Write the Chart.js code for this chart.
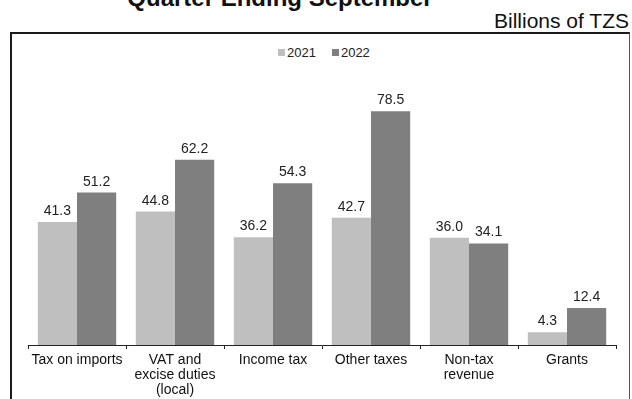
<!DOCTYPE html>
<html>
<head>
<meta charset="utf-8">
<script src="https://cdn.jsdelivr.net/npm/chart.js@4.4.1/dist/chart.umd.min.js"></script>
<style>
  body { margin: 0; background: #fff; font-family: "Liberation Sans", Arial, sans-serif; }
  #wrap { position: relative; width: 632px; height: 399px; overflow: hidden; }
  #titulo { position: absolute; left: 0; width: 560px; top: -14px; text-align: center;
            font-size: 24px; line-height: 24px; font-weight: bold; color: #111; white-space: nowrap; }
  #unidad { position: absolute; right: 3px; top: 10px; font-size: 21px; line-height: 21px; color: #111; }
  #marco { position: absolute; left: 10px; top: 32px; width: 617px; height: 400px;
           border-top: 2px solid #1a1a1a; border-left: 2px solid #1a1a1a; border-right: 1px solid #555; }
  #leyenda { position: absolute; left: 278px; top: 46px; display: flex; font-size: 13px; line-height: 13px; color: #222; }
  #leyenda .item { display: flex; margin-right: 16px; }
  #leyenda .cuadro { width: 7px; height: 7px; margin-top: 3px; margin-right: 2px; }
  canvas { position: absolute; left: 0; top: 0; }
</style>
</head>
<body>
<div id="wrap">
  <div id="titulo">Quarter Ending September</div>
  <div id="unidad">Billions of TZS</div>
  <div id="marco"></div>
  <div id="leyenda"></div>
  <canvas id="grafico" width="632" height="399"></canvas>
</div>
<script>
// DATOS:
const categorias = [
    "Tax on imports",
    ["VAT and", "excise duties", "(local)"],
    "Income tax",
    "Other taxes",
    ["Non-tax", "revenue"],
    "Grants"
];
const anios = ["2021", "2022"];
const valores2021 = [41.3, 44.8, 36.2, 42.7, 36.0, 4.3];
const valores2022 = [51.2, 62.2, 54.3, 78.5, 34.1, 12.4];
const colores = ["#bfbfbf", "#7f7f7f"];

// leyenda simple en HTML
const leyenda = document.getElementById("leyenda");
anios.forEach((anio, i) => {
    leyenda.innerHTML += `<div class="item"><span class="cuadro" style="background:${colores[i]}"></span>${anio}</div>`;
});

// etiquetas con el valor encima de cada barra
const etiquetasValor = {
    id: "etiquetasValor",
    afterDatasetsDraw(chart) {
        const ctx = chart.ctx;
        ctx.save();
        ctx.font = '14px "Liberation Sans", Arial, sans-serif';
        ctx.fillStyle = "#222";
        ctx.textAlign = "center";
        ctx.textBaseline = "alphabetic";
        chart.data.datasets.forEach((ds, i) => {
            chart.getDatasetMeta(i).data.forEach((barra, j) => {
                ctx.fillText(ds.data[j].toFixed(1), barra.x, barra.y - 7);
            });
        });
        ctx.restore();
    }
};

new Chart(document.getElementById("grafico"), {
    type: "bar",
    data: {
        labels: categorias,
        datasets: [
            { label: anios[0], data: valores2021, backgroundColor: colores[0] },
            { label: anios[1], data: valores2022, backgroundColor: colores[1] }
        ]
    },
    options: {
        responsive: false,
        animation: false,
        categoryPercentage: 0.8,
        barPercentage: 1.0,
        layout: { padding: { left: 28, right: 16, top: 77, bottom: 0 } },
        plugins: {
            legend: { display: false },
            tooltip: { enabled: false }
        },
        scales: {
            x: {
                afterFit: function(escala) { escala.height = 54; },
                border: { display: true, color: "#222", width: 1 },
                grid: { offset: true, drawOnChartArea: false, drawTicks: true, tickLength: 4, color: "#222" },
                ticks: {
                    padding: 4,
                    color: "#111",
                    maxRotation: 0,
                    autoSkip: false,
                    font: { family: '"Liberation Sans", Arial, sans-serif', size: 14, lineHeight: 1.05 }
                }
            },
            y: {
                display: false,
                min: 0,
                max: 90
            }
        }
    },
    plugins: [etiquetasValor]
});
</script>
</body>
</html>
